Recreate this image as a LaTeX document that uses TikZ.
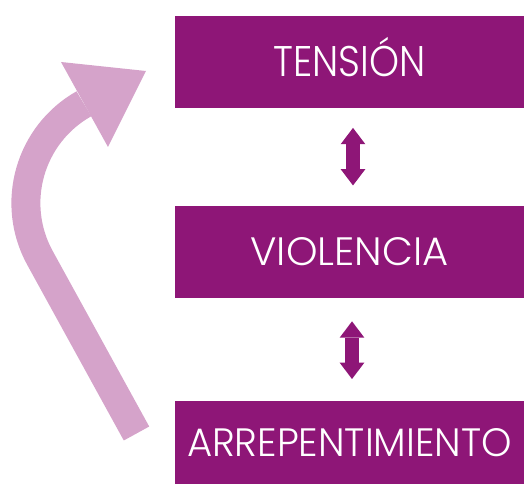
\documentclass[tikz,border=0pt]{standalone}
\usepackage{fontspec}
\setmainfont{Poppins Light}
\usepackage{graphicx}
\usetikzlibrary{arrows.meta}
\definecolor{violeta}{HTML}{8E1677}
\definecolor{rosa}{HTML}{D5A3CA}
\begin{document}
\begin{tikzpicture}[x=1pt,y=1pt,
  box/.style={fill=violeta, draw=none, inner sep=0pt, minimum width=349.4pt, text=white, anchor=west},
  dblarrow/.style={draw=violeta, line width=14pt, {Triangle[length=16.3pt,width=24.7pt,line width=0pt]}-{Triangle[length=16.3pt,width=24.7pt,line width=0pt]}},
  cyclearrow/.style={draw=rosa, line width=29pt}]
\useasboundingbox (0,0) rectangle (524,484);
\node[box, minimum height=92pt] (T) at (174.6,422.3)
  {\fontsize{30}{36}\selectfont\resizebox{152pt}{30pt}{\raisebox{0pt}[\fontcharht\font`T][0pt]{TENSIÓN}}};
\node[box, minimum height=91.3pt] (V) at (174.6,232)
  {\fontsize{30}{36}\selectfont\resizebox{198pt}{28pt}{VIOLENCIA}};
\node[box, minimum height=83.3pt] (A) at (174.6,41.65)
  {\fontsize{30}{36}\selectfont\resizebox{325pt}{28pt}{ARREPENTIMIENTO}};
\draw[dblarrow, shorten <=20pt, shorten >=20.7pt] ([xshift=3.5pt]T.south) -- ([xshift=3.5pt]V.north);
\draw[dblarrow, shorten <=23.5pt, shorten >=21.5pt] ([xshift=2.5pt]V.south) -- ([xshift=2.5pt]A.north);
\coordinate (tail) at (136.5,50.5);
\coordinate (bend) at (40,226);
\draw[cyclearrow] (tail) -- (bend) arc[start angle=208.8, end angle=119.4, radius=114] coordinate (headbase);
\coordinate (tip) at (146,413);
\fill[rosa] (61,422) -- (tip) -- (108,337) -- cycle;
\end{tikzpicture}
\end{document}
